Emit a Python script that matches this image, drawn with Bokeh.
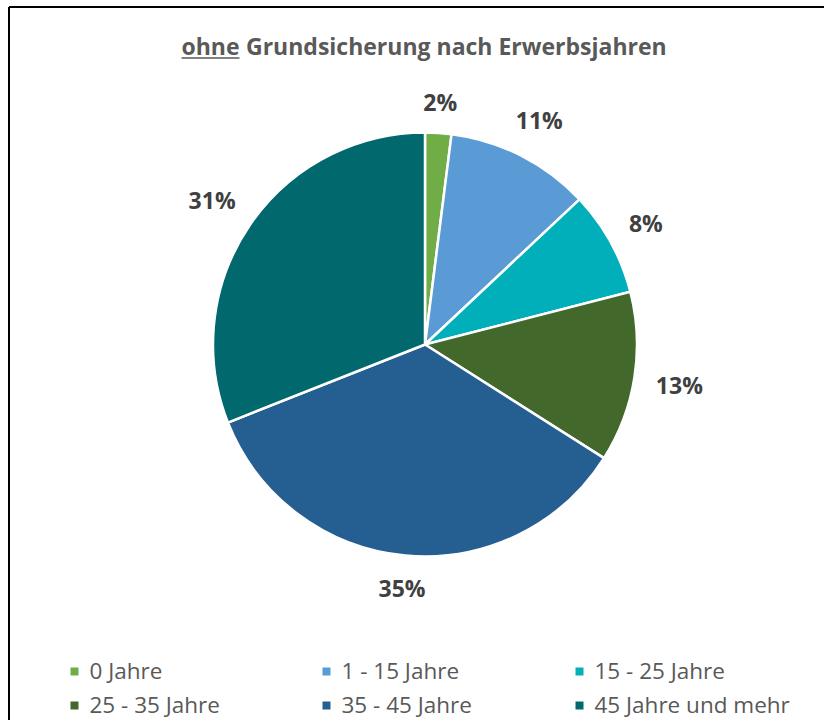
import math
from bokeh.plotting import figure
from bokeh.models import Range1d, ColumnDataSource
from bokeh.core.properties import value
from bokeh.embed import file_html
from bokeh.resources import INLINE

# ---- data ----
categories = ["0 Jahre", "1 - 15 Jahre", "15 - 25 Jahre",
              "25 - 35 Jahre", "35 - 45 Jahre", "45 Jahre und mehr"]
shares = [2, 11, 8, 13, 35, 31]
colors = ["#70AD47", "#5B9BD5", "#00AFBA", "#43682B", "#255E91", "#01696D"]
title_underlined = "ohne"
title_rest = "Grundsicherung nach Erwerbsjahren"

# ---- layout (picture pixel helpers) ----
W, H = 824, 720
def fx(px):
    return px
def fy(py):
    return H - py

FONT = "Open Sans"
cx, cy, R = fx(424.5), fy(344), 212

p = figure(width=W, height=H, output_backend="svg", toolbar_location=None,
           x_range=Range1d(0, W), y_range=Range1d(0, H),
           x_axis_location=None, y_axis_location=None, min_border=0)
p.grid.visible = False
p.outline_line_color = None
p.background_fill_color = "white"
p.border_fill_color = "white"

# frame (left and top visible)
p.line([fx(8.5), fx(8.5)], [0, fy(6.5)], line_color="black", line_width=2)
p.line([fx(8.5), W], [fy(6.5), fy(6.5)], line_color="black", line_width=2)

# ---- pie ----
total = float(sum(shares))
starts, ends, mids = [], [], []
cum = 0.0
for s in shares:
    a0 = cum / total * 2 * math.pi
    cum += s
    a1 = cum / total * 2 * math.pi
    starts.append(math.pi / 2 - a0)
    ends.append(math.pi / 2 - a1)
    mids.append((a0 + a1) / 2)

src = ColumnDataSource(dict(start=starts, end=ends, color=colors, cat=categories))
p.wedge(x=cx, y=cy, radius=R, start_angle="start", end_angle="end",
        direction="clock", fill_color="color", line_color="white",
        line_width=2.5, source=src)

# ---- data labels (outside end) ----
fs = 23
lab_x, lab_y, lab_t = [], [], []
for s, th in zip(shares, mids):
    t = f"{s}%"
    sx, sy = math.sin(th), math.cos(th)
    half_w = (0.572 * fs * (len(t) - 1) + 0.891 * fs) / 2
    half_h = 9
    d = 233 + abs(sx) * half_w + abs(sy) * half_h
    lab_x.append(cx + d * sx)
    lab_y.append(cy + d * sy)
    lab_t.append(t)
p.text(x=lab_x, y=lab_y, text=lab_t, text_font=value(FONT),
       text_font_size=f"{fs}px", text_font_style="bold", text_color="#404040",
       text_align="center", text_baseline="middle")

# ---- title ----
p.text(x=[fx(239)], y=[fy(45)], text=[title_underlined], text_font=value(FONT),
       text_font_size="23px", text_font_style="bold", text_color="#595959",
       text_align="right", text_baseline="middle")
p.text(x=[fx(245.5)], y=[fy(45)], text=[title_rest], text_font=value(FONT),
       text_font_size="23px", text_font_style="bold", text_color="#595959",
       text_align="left", text_baseline="middle")
p.line([fx(181), fx(239)], [fy(57.5), fy(57.5)], line_color="#595959", line_width=1.6)

# ---- legend ----
col_x = [74, 326, 579]
row_y = [670, 704]
mx, my, tx, ty = [], [], [], []
for i, c in enumerate(categories):
    r, k = divmod(i, 3)
    mx.append(fx(col_x[k]))
    my.append(fy(row_y[r] + 1))
    tx.append(fx(col_x[k] + 15))
    ty.append(fy(row_y[r]))
p.scatter(x=mx, y=my, marker="square", size=8, fill_color=colors, line_color=None)
p.text(x=tx, y=ty, text=categories, text_font=value(FONT), text_font_size="22.5px",
       text_color="#595959", text_align="left", text_baseline="middle")

open("out.html", "w").write(file_html(p, INLINE))
